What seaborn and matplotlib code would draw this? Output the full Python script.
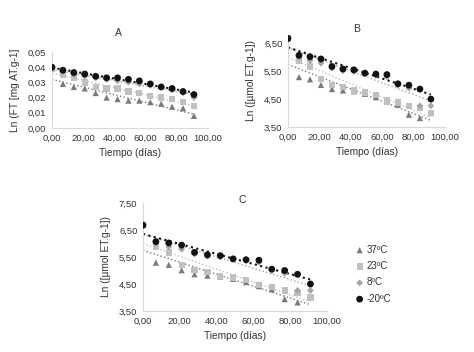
import numpy as np
import pandas as pd
import seaborn as sns
import matplotlib.pyplot as plt
from matplotlib.ticker import FuncFormatter

# days of storage
dias = [0, 7, 14, 21, 28, 35, 42, 49, 56, 63, 70, 77, 84, 91]
series = ["37ºC", "23ºC", "8ºC", "-20ºC"]

# panel A: Ln (FT)
ft_37 = [0.039, 0.029, 0.027, 0.026, 0.023, 0.020, 0.019, 0.018, 0.018, 0.017, 0.016, 0.014, 0.013, 0.008]
ft_23 = [0.039, 0.035, 0.033, 0.030, 0.027, 0.026, 0.026, 0.024, 0.023, 0.021, 0.020, 0.019, 0.017, 0.0145]
ft_8 = [0.039, 0.037, 0.035, 0.034, 0.033, 0.032, 0.031, 0.030, 0.029, 0.028, 0.027, 0.025, 0.023, 0.020]
ft_m20 = [0.040, 0.038, 0.0365, 0.0355, 0.034, 0.033, 0.033, 0.032, 0.031, 0.029, 0.027, 0.026, 0.024, 0.022]

# panels B and C: Ln (umol ET)
et_37 = [6.68, 5.29, 5.21, 5.01, 4.86, 4.81, 4.78, 4.69, 4.57, 4.42, 4.30, 3.94, 3.82, 4.00]
et_23 = [6.68, 5.87, 5.67, 5.21, 5.01, 4.93, 4.81, 4.74, 4.65, 4.45, 4.38, 4.26, 4.18, 4.00]
et_8 = [6.68, 6.00, 5.88, 5.79, 5.61, 5.52, 5.49, 5.43, 5.35, 5.30, 5.00, 4.89, 4.26, 4.26]
et_m20 = [6.68, 6.07, 6.02, 5.94, 5.67, 5.58, 5.55, 5.43, 5.40, 5.38, 5.05, 5.00, 4.86, 4.50]

x_ticks = [0, 20, 40, 60, 80, 100]
ft_ticks = [0, 0.01, 0.02, 0.03, 0.04, 0.05]
et_ticks_b = [3.5, 4.5, 5.5, 6.5]
et_ticks_c = [3.5, 4.5, 5.5, 6.5, 7.5]

colors = {"37ºC": "#7a7a7a", "23ºC": "#c0c0c0", "8ºC": "#a5a5a5", "-20ºC": "#111111"}
markers = {"37ºC": "^", "23ºC": "s", "8ºC": "D", "-20ºC": "o"}
sizes = {"37ºC": 20, "23ºC": 20, "8ºC": 12, "-20ºC": 24}
lw = {"37ºC": 1.0, "23ºC": 1.0, "8ºC": 1.0, "-20ºC": 1.5}

sns.set_theme(style="white")
plt.rcParams['font.family'] = ['Liberation Sans', 'DejaVu Sans']
txt = "#333333"


def long_df(vals):
    return pd.DataFrame({"dias": dias * 4,
                         "valor": sum(vals, []),
                         "temp": np.repeat(series, len(dias))})


def comma(v, pos):
    return f"{v:.2f}".replace(".", ",")


def draw(ax, df, ylim, yticks, ylabel):
    for s in series:
        sub = df[df.temp == s]
        sns.scatterplot(data=sub, x="dias", y="valor", ax=ax, color=colors[s],
                        marker=markers[s], s=sizes[s], edgecolor="none",
                        label=s, zorder=3)
        sns.regplot(data=sub, x="dias", y="valor", ax=ax, scatter=False, ci=None,
                    color=colors[s], line_kws={"linestyle": ":", "linewidth": lw[s]})
    ax.set_xlim(0, 100)
    ax.set_ylim(*ylim)
    ax.set_xticks(x_ticks)
    ax.set_yticks(yticks)
    ax.xaxis.set_major_formatter(FuncFormatter(comma))
    ax.yaxis.set_major_formatter(FuncFormatter(comma))
    ax.tick_params(labelsize=6.8, colors=txt, length=0, pad=4)
    for sp in ["top", "right"]:
        ax.spines[sp].set_visible(False)
    for sp in ["left", "bottom"]:
        ax.spines[sp].set_color("#d9d9d9")
        ax.spines[sp].set_linewidth(0.8)
    ax.set_xlabel("Tiempo (días)", fontsize=7.3, color=txt, labelpad=4)
    ax.set_ylabel(ylabel, fontsize=7.3, color=txt, labelpad=6)
    ax.legend_.remove()


W, H = 474, 352
fig = plt.figure(figsize=(W / 100, H / 100), dpi=100)


def px_axes(x0, y_top, x1, y_bot):
    return fig.add_axes([x0 / W, 1 - y_bot / H, (x1 - x0) / W, (y_bot - y_top) / H])


axA = px_axes(52, 52, 208, 128)
draw(axA, long_df([ft_37, ft_23, ft_8, ft_m20]), (0, 0.05), ft_ticks, "Ln (FT [mg AT.g-1]")
fig.text(118 / W, 1 - 33 / H, "A", fontsize=7.5, color=txt, ha="center", va="center")

axB = px_axes(288, 35, 445, 127)
draw(axB, long_df([et_37, et_23, et_8, et_m20]), (3.5, 6.8), et_ticks_b, "Ln ([µmol ET.g-1])")
fig.text(357 / W, 1 - 29 / H, "B", fontsize=7.5, color=txt, ha="center", va="center")

axC = px_axes(143, 203, 327, 311)
draw(axC, long_df([et_37, et_23, et_8, et_m20]), (3.5, 7.5), et_ticks_c, "Ln ([µmol ET.g-1])")
fig.text(242 / W, 1 - 200 / H, "C", fontsize=7.5, color=txt, ha="center", va="center")

handles, labels = axC.get_legend_handles_labels()
fig.legend(handles[:4], labels[:4], loc="upper left", bbox_to_anchor=(346 / W, 1 - 236 / H),
           frameon=False, fontsize=7, labelcolor=txt, handletextpad=0.2,
           labelspacing=0.65, handlelength=1.0)

fig.savefig("out.png", dpi=100)
